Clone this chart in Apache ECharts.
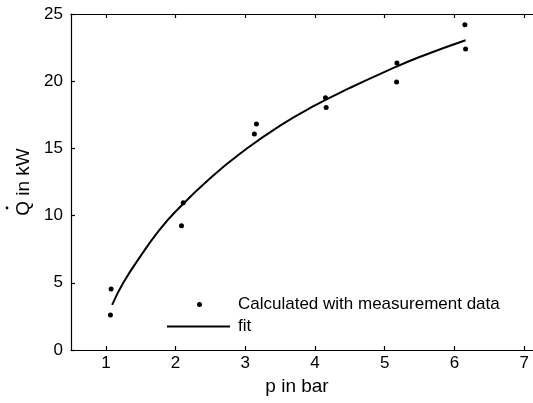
<!DOCTYPE html>
<html>
<head>
<meta charset="utf-8">
<script src="https://cdn.jsdelivr.net/npm/echarts@6/dist/echarts.min.js"></script>
<style>
html,body{margin:0;padding:0;background:#fff;overflow:hidden;width:533px;height:403px;}
#c{width:560px;height:403px;}
</style>
</head>
<body>
<div id="c"></div>
<script>
// measured points (p in bar, Q in kW)
const measP = [1.076, 1.066, 2.085, 2.11, 3.13, 3.16, 4.15, 4.16, 5.175, 5.17, 6.15, 6.16];
const measQ = [4.54, 2.60, 9.25, 10.96, 16.07, 16.82, 18.77, 18.05, 21.35, 19.94, 24.2, 22.4];
// fit curve
const fitP = [1.09, 1.25, 1.5, 1.75, 2.0, 2.5, 3.0, 3.5, 4.0, 4.5, 5.0, 5.5, 6.16];
const fitQ = [3.35, 5.0, 7.0, 8.8, 10.3, 12.8, 14.9, 16.7, 18.2, 19.5, 20.7, 21.8, 23.05];
const xTicks = [1, 2, 3, 4, 5, 6, 7];
const yTicks = [0, 5, 10, 15, 20, 25];
const measName = 'Calculated with measurement data';
const fitName = 'fit';

const FONT = 'Liberation Sans, Arial, sans-serif';
const FS = 17;
const NFS = 19;
const chart = echarts.init(document.getElementById('c'), null, {renderer: 'canvas'});
const axisLineStyle = {color: '#000', width: 1.2};
chart.setOption({
  animation: false,
  backgroundColor: '#fff',
  textStyle: {fontFamily: FONT, color: '#000'},
  grid: {left: 71, top: 14, bottom: 53, right: 1, containLabel: false},
  legend: [
    {
      data: [{name: measName, icon: 'circle'}],
      orient: 'vertical', left: 197, top: 296, padding: 0,
      itemWidth: 5, itemHeight: 5,
      itemStyle: {color: '#000', opacity: 1},
      textStyle: {fontFamily: FONT, fontSize: FS, color: '#000', padding: [0, 0, 0, 31]},
      selectedMode: false
    },
    {
      data: [{name: fitName, icon: 'rect'}],
      orient: 'vertical', left: 167, top: 318, padding: 0,
      itemWidth: 63, itemHeight: 2,
      textStyle: {fontFamily: FONT, fontSize: FS, color: '#000', padding: [0, 0, 0, 3]},
      selectedMode: false
    }
  ],
  xAxis: [
    {
      type: 'value', min: 0.5, max: 7.5, position: 'bottom',
      name: 'p in bar', nameLocation: 'middle', nameGap: 20,
      nameTextStyle: {fontFamily: FONT, fontSize: NFS, color: '#000', padding: [0, 36, 0, 0], verticalAlign: 'top'},
      axisLine: {show: true, onZero: false, lineStyle: axisLineStyle},
      axisTick: {show: true, inside: true, length: 4, customValues: xTicks, lineStyle: axisLineStyle},
      axisLabel: {show: true, margin: 5, fontFamily: FONT, fontSize: FS, color: '#000', customValues: xTicks},
      splitLine: {show: false}
    },
    {
      type: 'value', min: 0.5, max: 7.5, position: 'top',
      axisLine: {show: true, onZero: false, lineStyle: axisLineStyle},
      axisTick: {show: true, inside: true, length: 4, customValues: xTicks, lineStyle: axisLineStyle},
      axisLabel: {show: false},
      splitLine: {show: false}
    }
  ],
  yAxis: [
    {
      type: 'value', min: 0, max: 25, interval: 5, position: 'left',
      name: 'Q in kW', nameLocation: 'middle', nameGap: 34, nameRotate: 90,
      nameTextStyle: {fontFamily: FONT, fontSize: NFS, color: '#000'},
      axisLine: {show: true, onZero: false, lineStyle: axisLineStyle},
      axisTick: {show: true, inside: true, length: 4, lineStyle: axisLineStyle},
      axisLabel: {show: true, margin: 8, fontFamily: FONT, fontSize: FS, color: '#000', customValues: yTicks},
      splitLine: {show: false}
    }
  ],
  graphic: [
    // dot of the time-derivative accent above "Q"
    {type: 'circle', shape: {cx: 7, cy: 208, r: 1.4}, style: {fill: '#000'}, silent: true}
  ],
  series: [
    {
      name: measName, type: 'scatter',
      data: measP.map((p, i) => [p, measQ[i]]),
      symbol: 'circle', symbolSize: 5,
      itemStyle: {color: '#000', opacity: 1}
    },
    {
      name: fitName, type: 'line',
      data: fitP.map((p, i) => [p, fitQ[i]]),
      smooth: true, symbol: 'none', showSymbol: false,
      lineStyle: {color: '#000', width: 2},
      itemStyle: {color: '#000'}
    }
  ]
});
</script>
</body>
</html>
